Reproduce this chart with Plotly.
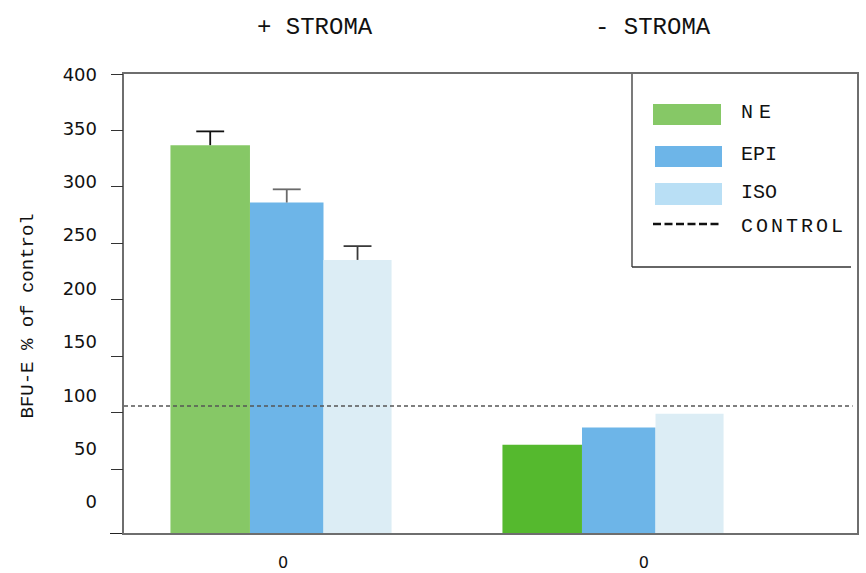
import plotly.graph_objects as go

# ---- data -------------------------------------------------------------
GROUP_HEADERS = ["+ STROMA", "- STROMA"]
GROUP_TICKS = ["0", "0"]
GROUP_X = [0, 1]

SERIES = ["NE", "EPI", "ISO"]
NE_VALUES = [338, 77]
EPI_VALUES = [288, 92]
ISO_VALUES = [238, 104]
NE_ERR = [12, None]
EPI_ERR = [11.5, None]
ISO_ERR = [12, None]
CONTROL_LEVEL = 110.7

Y_TICK_VALUES = [0, 50, 100, 150, 200, 250, 300, 350, 400]
Y_TICK_LABELS = ["0", "50", "100", "150", "200", "250", "300", "350", "400"]

# ---- page geometry ------------------------------------------------------
W, H = 866, 573
ML, MR, MT, MB = 124, 9, 74, 40
PW, PH = W - ML - MR, H - MT - MB


def px(x):
    return (x - ML) / PW


def py(y):
    return (H - MB - y) / PH


MONO = "Courier New, Liberation Mono, monospace"
SANS = "DejaVu Sans, Verdana, sans-serif"
CAP_HALF = 0.042  # half width of an error-bar cap, in group units

fig = go.Figure()

bar_specs = [
    (SERIES[0], NE_VALUES, NE_ERR, ["#86c866", "#55b92e"], "#111111", -0.333, 0.2395),
    (SERIES[1], EPI_VALUES, EPI_ERR, "#6db5e8", "#6a6a6a", -0.0934, 0.2214),
    (SERIES[2], ISO_VALUES, ISO_ERR, "#dcedf5", "#3a3a3a", 0.128, 0.205),
]
for name, vals, errs, color, ecolor, off, wid in bar_specs:
    fig.add_trace(go.Bar(
        x=GROUP_X, y=vals, name=name,
        marker=dict(color=color, line=dict(width=0)),
        offset=off, width=wid, showlegend=False,
    ))
    # upper error bars drawn as a "T": stem from the bar top plus a cap
    ex, ey = [], []
    for g, v, e in zip(GROUP_X, vals, errs):
        if e is None:
            continue
        c = g + off + wid / 2
        ex += [c, c, None, c - CAP_HALF, c + CAP_HALF, None]
        ey += [v, v + e, None, v + e, v + e, None]
    if ex:
        fig.add_trace(go.Scatter(x=ex, y=ey, mode="lines", showlegend=False,
                                 line=dict(color=ecolor, width=1.8),
                                 hoverinfo="skip"))

# control reference line
fig.add_shape(type="line", xref="paper", yref="y", x0=0, x1=0.994,
              y0=CONTROL_LEVEL, y1=CONTROL_LEVEL,
              line=dict(color="#555555", width=1.4, dash="4px,3px"))

# legend box
fig.add_shape(type="line", xref="paper", yref="paper", x0=px(632), x1=px(632),
              y0=1, y1=py(267), line=dict(color="#333333", width=1.3))
fig.add_shape(type="line", xref="paper", yref="paper", x0=px(632), x1=px(851),
              y0=py(267), y1=py(267), line=dict(color="#333333", width=1.3))

legend_rows = [
    ("N E", "#86c866", 653, 721, 104, 125, "letter-spacing:-3px"),
    ("EPI", "#6db5e8", 655, 722, 146, 167, ""),
    ("ISO", "#b9dff5", 655, 722, 183, 205, ""),
]
for label, color, x0, x1, y0, y1, style in legend_rows:
    fig.add_shape(type="rect", xref="paper", yref="paper",
                  x0=px(x0), x1=px(x1), y0=py(y1), y1=py(y0),
                  fillcolor=color, line=dict(width=0))
    text = f'<span style="{style}">{label}</span>' if style else label
    fig.add_annotation(xref="paper", yref="paper", x=px(739), y=py((y0 + y1) / 2 - 2),
                       text=text, showarrow=False, xanchor="left", yanchor="middle",
                       font=dict(family=MONO, size=20, color="#111111"))

fig.add_shape(type="line", xref="paper", yref="paper", x0=px(653), x1=px(720),
              y0=py(224), y1=py(224),
              line=dict(color="#111111", width=2.6, dash="8px,3.5px"))
fig.add_annotation(xref="paper", yref="paper", x=px(739), y=py(226),
                   text='<span style="letter-spacing:3px">CONTROL</span>',
                   showarrow=False, xanchor="left", yanchor="middle",
                   font=dict(family=MONO, size=20, color="#111111"))

# group headers
for header, cx in zip(GROUP_HEADERS, [314.5, 652.5]):
    fig.add_annotation(xref="paper", yref="paper", x=px(cx), y=py(27),
                       text=header, showarrow=False, xanchor="center", yanchor="middle",
                       font=dict(family=MONO, size=24, color="#111111"))

# y-axis title
fig.add_annotation(xref="paper", yref="paper", x=px(27), y=py(316.5),
                   text="BFU-E % of control", textangle=-90, showarrow=False,
                   xanchor="center", yanchor="middle",
                   font=dict(family=MONO, size=19, color="#111111"))

fig.update_layout(
    width=W, height=H,
    margin=dict(l=ML, r=MR, t=MT, b=MB, pad=0, autoexpand=False),
    paper_bgcolor="white", plot_bgcolor="white",
    barmode="overlay",
    xaxis=dict(
        range=[-0.4729, 1.7349], showgrid=False, zeroline=False, automargin=False,
        showline=True, linecolor="#6e6e6e", linewidth=1.6, mirror=True,
        tickmode="array", tickvals=[GROUP_X[0] + 0.006, GROUP_X[1] + 0.093],
        ticktext=GROUP_TICKS, ticks="", ticklabelstandoff=14,
        tickfont=dict(family=SANS, size=16, color="#111111"),
    ),
    yaxis=dict(
        range=[0, 400], showgrid=False, zeroline=False, automargin=False,
        showline=True, linecolor="#6e6e6e", linewidth=1.6, mirror=True,
        tickmode="array", tickvals=[0], ticks="outside", ticklen=12,
        tickcolor="#222222", tickwidth=1.4, showticklabels=False,
    ),
    yaxis2=dict(
        overlaying="y", anchor="x", side="left", automargin=False,
        range=[-6.7, 400], showgrid=False, zeroline=False, showline=False,
        tickmode="array", tickvals=Y_TICK_VALUES[1:], ticks="outside", ticklen=12,
        tickcolor="#333333", tickwidth=1.3, showticklabels=False,
    ),
    yaxis3=dict(
        overlaying="y", anchor="x", side="left", automargin=False,
        range=[-29.04, 400.96], showgrid=False, zeroline=False, showline=False,
        tickmode="array", tickvals=Y_TICK_VALUES, ticktext=Y_TICK_LABELS,
        ticks="", ticklabelstandoff=26,
        tickfont=dict(family=SANS, size=18, color="#111111"),
    ),
)

# empty traces so the overlay axes are rendered
fig.add_trace(go.Scatter(x=[None], y=[None], yaxis="y2", showlegend=False, hoverinfo="skip"))
fig.add_trace(go.Scatter(x=[None], y=[None], yaxis="y3", showlegend=False, hoverinfo="skip"))

fig.write_html("out.html")
